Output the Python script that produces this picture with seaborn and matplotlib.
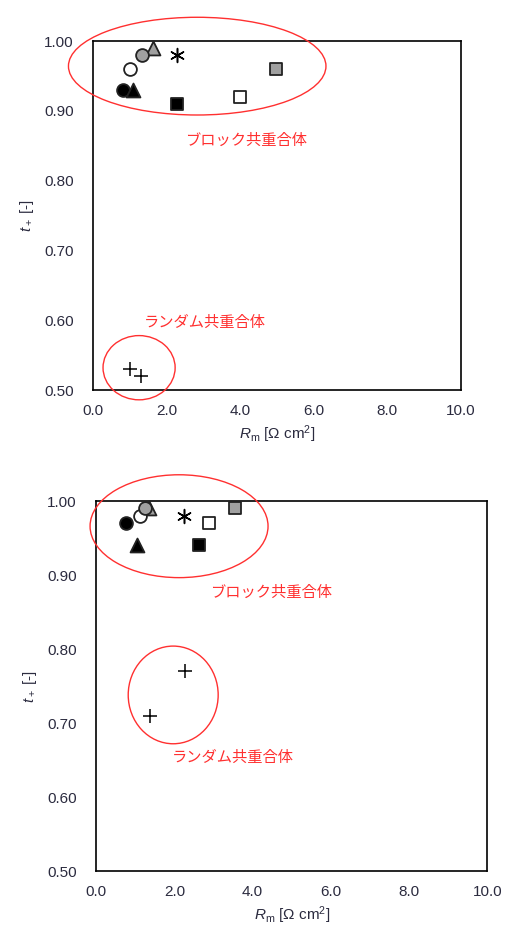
import numpy as np
import pandas as pd
import matplotlib
matplotlib.use("Agg")
import matplotlib.pyplot as plt
from matplotlib.patches import Ellipse
import seaborn as sns

### Data

series = ["black_circle", "black_triangle", "gray_triangle", "open_circle", "gray_circle",
          "asterisk", "black_square", "open_square", "gray_square", "random_1", "random_2"]
markers = ["o", "^", "^", "o", "o", (6, 2, 0), "s", "s", "s", "+", "+"]
faces = ["black", "black", "#a0a0a0", "white", "#a0a0a0",
         "black", "black", "white", "#a0a0a0", "black", "black"]

# upper panel
top_x = [0.80, 1.09, 1.63, 1.00, 1.33, 2.28, 2.28, 4.00, 4.97, 1.00, 1.30]
top_y = [0.93, 0.93, 0.99, 0.96, 0.98, 0.98, 0.91, 0.92, 0.96, 0.53, 0.52]

# lower panel
bot_x = [0.77, 1.05, 1.35, 1.13, 1.25, 2.25, 2.63, 2.89, 3.55, 1.38, 2.28]
bot_y = [0.97, 0.94, 0.99, 0.98, 0.99, 0.98, 0.94, 0.97, 0.99, 0.71, 0.77]

block_label = "ブロック共重合体"
random_label = "ランダム共重合体"

x_ticks = [0, 2, 4, 6, 8, 10]
y_ticks = [0.5, 0.6, 0.7, 0.8, 0.9, 1.0]

### Figure

sns.set_style("white")
plt.rcParams["font.family"] = ["Liberation Sans", "Noto Sans CJK JP"]
plt.rcParams["mathtext.fontset"] = "custom"
plt.rcParams["mathtext.rm"] = "Liberation Sans"
plt.rcParams["mathtext.it"] = "Liberation Sans:italic"

fig = plt.figure(figsize=(5.06, 9.32), dpi=100)
ax_top = fig.add_axes([0.184, 0.5815, 0.727, 0.3745])
ax_bot = fig.add_axes([0.190, 0.0654, 0.773, 0.397])

tick_color = "#2b2b3f"
red = "#ff3030"


def draw_panel(ax, xs, ys, block_ell, rand_ell, block_txt, rand_txt):
    df = pd.DataFrame({"series": series, "x": xs, "y": ys})
    for i, row in df.iterrows():
        m = markers[i]
        if m == "+" or isinstance(m, tuple):
            sns.scatterplot(x=[row.x], y=[row.y], marker=m, color="black",
                            s=100, linewidth=1.1, ax=ax,
                            zorder=3, clip_on=False)
        else:
            size = 100 if m == "^" else 85
            sns.scatterplot(x=[row.x], y=[row.y], marker=m, color=faces[i],
                            edgecolor="#222222", linewidth=1.3, s=size, ax=ax,
                            zorder=3, clip_on=False)

    # ellipses around groups
    for (cx, cy, w, h) in [block_ell, rand_ell]:
        ax.add_patch(Ellipse((cx, cy), w, h, fill=False, edgecolor=red,
                             linewidth=1.0, clip_on=False, zorder=4))

    ax.text(block_txt[0], block_txt[1], block_label, color=red, fontsize=11,
            family="Noto Sans CJK JP", va="center")
    ax.text(rand_txt[0], rand_txt[1], random_label, color=red, fontsize=11,
            family="Noto Sans CJK JP", va="center")

    ax.set_xlim(0, 10)
    ax.set_ylim(0.5, 1.0)
    ax.set_xticks(x_ticks)
    ax.set_xticklabels([f"{v:.1f}" for v in x_ticks])
    ax.set_yticks(y_ticks)
    ax.set_yticklabels([f"{v:.2f}" for v in y_ticks])
    ax.tick_params(direction="in", length=4, width=1, colors="black",
                   labelcolor=tick_color, labelsize=11)
    ax.tick_params(axis="y", pad=14)
    ax.tick_params(axis="x", pad=10)
    for sp in ax.spines.values():
        sp.set_visible(True)
        sp.set_color("black")
        sp.set_linewidth(1.2)
    ax.set_xlabel(r"$R_\mathrm{m}$ [Ω cm$^2$]", fontsize=11, color=tick_color, labelpad=4)
    ax.set_ylabel(r"$t_+$ [-]", fontsize=11, color=tick_color, labelpad=6)


draw_panel(ax_top, top_x, top_y,
           (2.83, 0.964, 7.0, 0.140), (1.25, 0.532, 1.96, 0.092),
           (2.5, 0.858), (1.39, 0.597))
draw_panel(ax_bot, bot_x, bot_y,
           (2.12, 0.966, 4.55, 0.139), (1.97, 0.738, 2.30, 0.132),
           (2.92, 0.876), (1.94, 0.654))

fig.savefig("out.png", dpi=100)
